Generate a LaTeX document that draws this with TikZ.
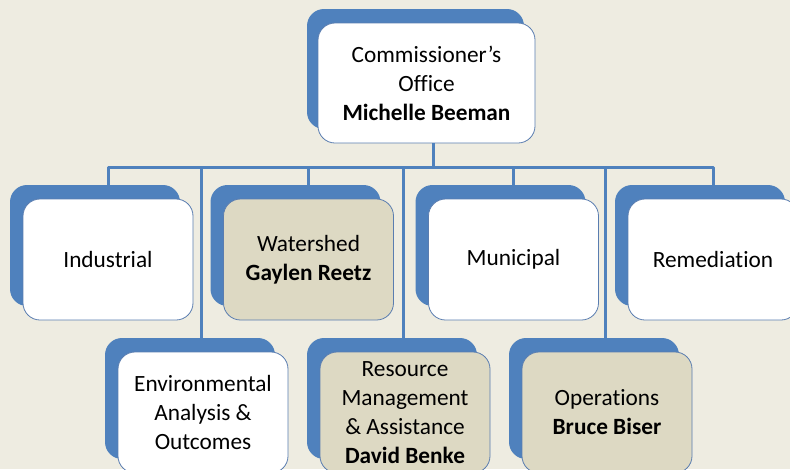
\documentclass[tikz,border=0pt]{standalone}
\usepackage{fontspec}
\setmainfont{Carlito}[Ligatures=NoCommon]
\usetikzlibrary{shadows}
\definecolor{bgc}{HTML}{EEECE1}
\definecolor{cblue}{HTML}{4F81BD}
\definecolor{ctan}{HTML}{DDD9C3}
\definecolor{cedge}{HTML}{5A7DB0}
\begin{document}
\begin{tikzpicture}[x=1pt,y=-1pt,
  basebox/.style={draw=cedge, line width=0.8pt, rounded corners=17pt,
    minimum height=121pt, inner sep=0pt, align=center,
    font=\fontsize{23.3}{29}\selectfont, fill=white},
  unitbox/.style={basebox, minimum width=170pt,
    general shadow={fill=cblue, shadow xshift=-13pt, shadow yshift=14pt}},
  headbox/.style={unitbox, fill=ctan},
  topbox/.style={basebox, minimum width=217pt, minimum height=120pt,
    general shadow={fill=cblue, shadow xshift=-11pt, shadow yshift=14pt}},
  link/.style={draw=cblue, line width=3pt, line join=round}]
\useasboundingbox (0,0) rectangle (790,469);
\fill[bgc] (0,0) rectangle (790,469);
\clip (0,0) rectangle (790,469);

\node[topbox] (top) at (426.5,83) {Commissioner’s\\Office\\\textbf{Michelle Beeman}};

\node[unitbox] (ind) at (108,259.5) {Industrial};
\node[headbox] (wat) at (308.5,259.5) {Watershed\\\textbf{Gaylen Reetz}};
\node[unitbox] (mun) at (513.5,259.5) {Municipal};
\node[unitbox] (rem) at (713,259.5) {Remediation};

\node[unitbox] (env) at (203,412.5) {Environmental\\Analysis \&\\Outcomes};
\node[headbox] (res) at (405,412.5) {Resource\\Management\\\& Assistance\\\textbf{David Benke}};
\node[headbox] (ops) at (607,412.5) {Operations\\\textbf{Bruce Biser}};

\coordinate (bus) at (433,167);

\draw[link] (top.south -| bus) -- (bus);
\draw[link] ([yshift=14pt]ind.north) |- (bus -| rem.north) -- ([yshift=14pt]rem.north);
\draw[link] ([yshift=14pt]wat.north) -- (bus -| wat.north);
\draw[link] ([yshift=14pt]mun.north) -- (bus -| mun.north);
\draw[link] ([yshift=14pt,xshift=-2pt]env.north) |- (bus);
\draw[link] ([yshift=14pt,xshift=-2pt]res.north) |- (bus);
\draw[link] ([yshift=14pt,xshift=-2pt]ops.north) |- (bus);
\end{tikzpicture}
\end{document}
